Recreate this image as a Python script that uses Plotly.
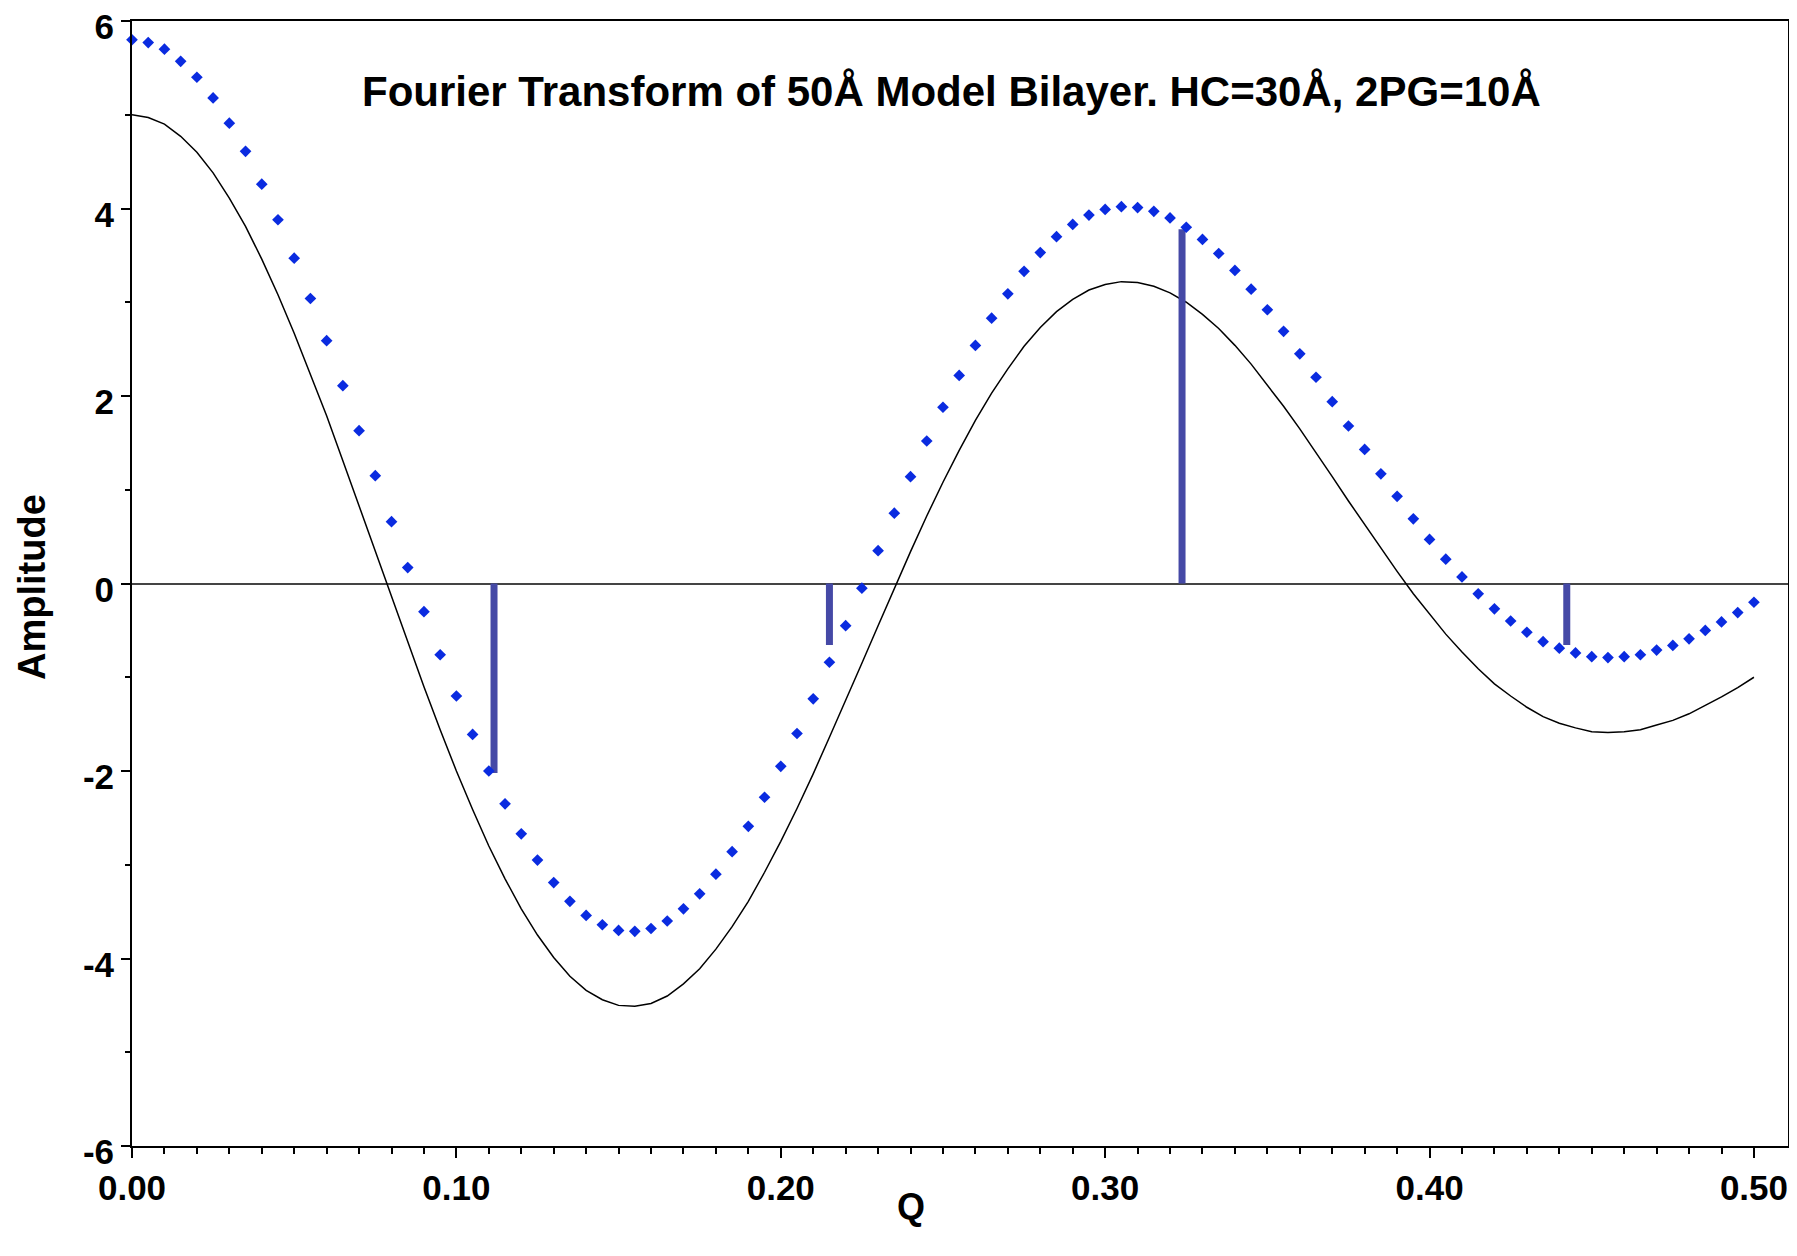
import plotly.graph_objects as go

# ---- data ----
Q = [round(i * 0.005, 3) for i in range(101)]

black_curve = [
    5.00, 4.97, 4.90, 4.77, 4.60, 4.38, 4.11, 3.81, 3.46, 3.08,
    2.67, 2.24, 1.79, 1.31, 0.83, 0.35, -0.14, -0.63, -1.10, -1.56,
    -2.00, -2.41, -2.80, -3.15, -3.47, -3.75, -3.99, -4.19, -4.34, -4.44,
    -4.50, -4.51, -4.48, -4.40, -4.27, -4.11, -3.90, -3.66, -3.39, -3.08,
    -2.75, -2.40, -2.03, -1.64, -1.25, -0.85, -0.45, -0.05, 0.34, 0.72,
    1.08, 1.42, 1.74, 2.03, 2.29, 2.53, 2.73, 2.90, 3.03, 3.13,
    3.19, 3.22, 3.21, 3.17, 3.10, 3.00, 2.87, 2.72, 2.54, 2.34,
    2.12, 1.89, 1.65, 1.40, 1.14, 0.88, 0.63, 0.37, 0.13, -0.11,
    -0.33, -0.54, -0.73, -0.91, -1.07, -1.20, -1.32, -1.42, -1.49, -1.54,
    -1.58, -1.59, -1.58, -1.56, -1.51, -1.46, -1.39, -1.30, -1.21, -1.11,
    -1.00,
]

blue_points = [
    5.80, 5.77, 5.70, 5.57, 5.40, 5.18, 4.91, 4.61, 4.26, 3.88,
    3.47, 3.04, 2.59, 2.11, 1.63, 1.15, 0.66, 0.17, -0.30, -0.76,
    -1.20, -1.61, -2.00, -2.35, -2.67, -2.95, -3.19, -3.39, -3.54, -3.64,
    -3.70, -3.71, -3.68, -3.60, -3.47, -3.31, -3.10, -2.86, -2.59, -2.28,
    -1.95, -1.60, -1.23, -0.84, -0.45, -0.05, 0.35, 0.75, 1.14, 1.52,
    1.88, 2.22, 2.54, 2.83, 3.09, 3.33, 3.53, 3.70, 3.83, 3.93,
    3.99, 4.02, 4.01, 3.97, 3.90, 3.80, 3.67, 3.52, 3.34, 3.14,
    2.92, 2.69, 2.45, 2.20, 1.94, 1.68, 1.43, 1.17, 0.93, 0.69,
    0.47, 0.26, 0.07, -0.11, -0.27, -0.40, -0.52, -0.62, -0.69, -0.74,
    -0.78, -0.79, -0.78, -0.76, -0.71, -0.66, -0.59, -0.50, -0.41, -0.31,
    -0.20,
]

bar_q = [0.1116, 0.2150, 0.3237, 0.4423]
bar_v = [-2.02, -0.656, 3.78, -0.656]

x_tickvals = [0.0, 0.1, 0.2, 0.3, 0.4, 0.5]
x_ticktext = ["0.00", "0.10", "0.20", "0.30", "0.40", "0.50"]
x_minor = [round(i * 0.01, 2) for i in range(51)]
y_tickvals = [-6, -4, -2, 0, 2, 4, 6]
y_ticktext = ["-6", "-4", "-2", "0", "2", "4", "6"]
y_minor = [-5, -3, -1, 1, 3, 5]

title_text = "Fourier Transform of 50Å Model Bilayer. HC=30Å, 2PG=10Å"

# ---- figure ----
FONT = "Liberation Sans, Arial, Helvetica, sans-serif"

bx, by = [], []
for q, v in zip(bar_q, bar_v):
    bx += [q, q, None]
    by += [0, v, None]

fig = go.Figure()
fig.add_trace(go.Scatter(x=Q, y=black_curve, mode="lines",
                         line=dict(color="black", width=1.5),
                         showlegend=False, hoverinfo="skip"))
fig.add_trace(go.Scatter(x=bx, y=by, mode="lines",
                         line=dict(color="#4549a6", width=7),
                         showlegend=False, hoverinfo="skip"))
fig.add_trace(go.Scatter(x=Q, y=blue_points, mode="markers",
                         marker=dict(symbol="diamond", size=9, color="#0a2be0",
                                     line=dict(width=0)),
                         cliponaxis=False, showlegend=False, hoverinfo="skip"))

axis_common = dict(showgrid=False, showline=True, linecolor="black", linewidth=2,
                   mirror=True, ticks="outside", tickcolor="black", tickwidth=1.5,
                   automargin=False, ticklabeloverflow="allow",
                   tickfont=dict(family=FONT, size=35, color="black", weight="bold"))

fig.update_xaxes(range=[0, 0.5105], tickmode="array", tickvals=x_tickvals,
                 ticktext=x_ticktext, ticklen=10, zeroline=False,
                 minor=dict(tickmode="array", tickvals=x_minor, ticks="outside",
                            ticklen=5.5, tickwidth=1.5, tickcolor="black", showgrid=False),
                 **axis_common)
fig.update_yaxes(range=[-6, 6], tickmode="array", tickvals=y_tickvals,
                 ticktext=y_ticktext, ticklen=9, ticklabelshift=6,
                 zeroline=True, zerolinecolor="#444444", zerolinewidth=2,
                 minor=dict(tickmode="array", tickvals=y_minor, ticks="outside",
                            ticklen=5, tickwidth=1.5, tickcolor="black", showgrid=False),
                 **axis_common)

# page body has an 8px margin, so the figure is sized/offset to compensate
fig.update_layout(
    width=1781, height=1240,
    margin=dict(l=124, r=1, t=13, b=102, pad=0, autoexpand=False),
    paper_bgcolor="white", plot_bgcolor="white",
    annotations=[
        dict(text=title_text, xref="paper", yref="paper", x=0.4946, y=0.9369,
             xanchor="center", yanchor="middle", showarrow=False,
             font=dict(family=FONT, size=42, color="black", weight="bold")),
        dict(text="Q", xref="paper", yref="paper", x=0.4704, y=-0.0542,
             xanchor="center", yanchor="middle", showarrow=False,
             font=dict(family=FONT, size=36, color="black", weight="bold")),
        dict(text="Amplitude", xref="paper", yref="paper", x=-0.0604, y=0.4969,
             xanchor="center", yanchor="middle", showarrow=False, textangle=-90,
             font=dict(family=FONT, size=38, color="black", weight="bold")),
    ],
)

fig.write_html("out.html")
